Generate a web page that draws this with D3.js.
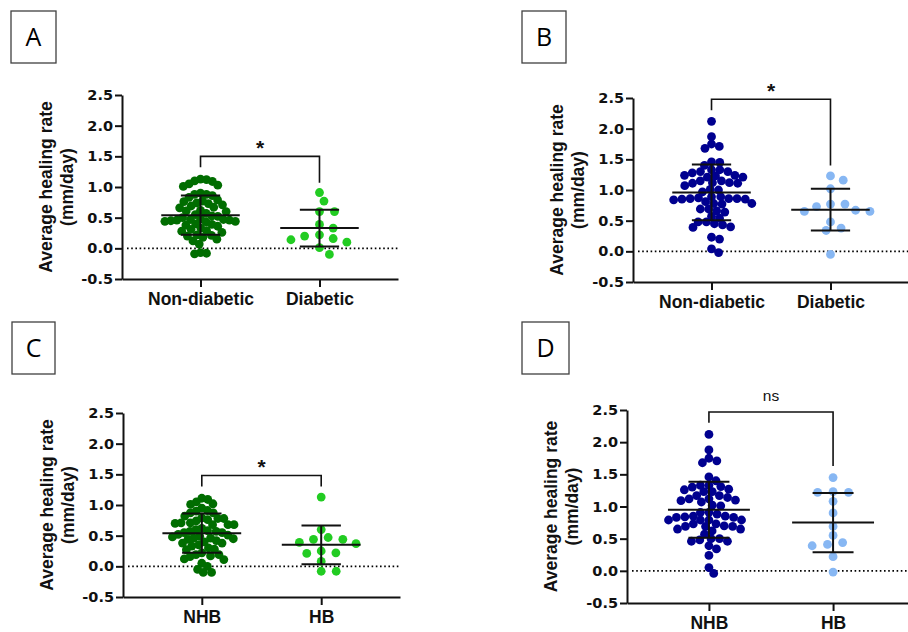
<!DOCTYPE html>
<html>
<head>
<meta charset="utf-8">
<script src="https://cdn.jsdelivr.net/npm/d3@7"></script>
<style>
  body { margin: 0; background: #fff; }
  svg { display: block; }
</style>
</head>
<body>
<div id="chart"></div>
<script>
// values (mm/day)
const yTickValues = [-0.5, 0, 0.5, 1.0, 1.5, 2.0, 2.5];
const diabetesGroups = ['Non-diabetic', 'Diabetic'];
const hbGroups = ['NHB', 'HB'];
const panelLetters = ['A', 'B', 'C', 'D'];

const aNonDiabetic = [1.13, 1.12, 1.10, 1.09, 1.05, 1.03, 1.01, 0.90, 0.88, 0.88, 0.86, 0.83, 0.79, 0.77, 0.76,
    0.74, 0.73, 0.71, 0.69, 0.67, 0.66, 0.62, 0.61, 0.60, 0.57, 0.55, 0.53, 0.52, 0.50, 0.48, 0.47, 0.47, 0.46,
    0.46, 0.45, 0.44, 0.44, 0.43, 0.40, 0.39, 0.38, 0.36, 0.33, 0.31, 0.29, 0.28, 0.26, 0.22, 0.21, 0.20, 0.18,
    0.15, 0.12, 0.07, -0.07, -0.09, -0.08];
const aDiabetic = [0.91, 0.77, 0.60, 0.60, 0.39, 0.33, 0.22, 0.20, 0.16, 0.14, 0.10, 0.01, -0.10];

const bNonDiabetic = [2.12, 1.87, 1.75, 1.71, 1.68, 1.46, 1.45, 1.40, 1.33, 1.33, 1.30, 1.30, 1.28, 1.24, 1.24,
    1.23, 1.21, 1.21, 1.15, 1.15, 1.12, 1.12, 1.11, 1.11, 1.07, 1.01, 1.00, 0.97, 0.89, 0.89, 0.87, 0.86, 0.86,
    0.86, 0.85, 0.85, 0.84, 0.81, 0.78, 0.78, 0.77, 0.69, 0.69, 0.66, 0.64, 0.57, 0.54, 0.48, 0.48, 0.45, 0.43,
    0.40, 0.39, 0.23, 0.20, 0.04, -0.02];
const bDiabetic = [1.23, 1.16, 1.02, 0.77, 0.77, 0.73, 0.67, 0.65, 0.65, 0.48, 0.38, 0.34, -0.05];

const cNHB = [1.11, 1.09, 1.05, 1.02, 1.01, 0.95, 0.91, 0.90, 0.87, 0.87, 0.82, 0.79, 0.78, 0.78, 0.76, 0.74,
    0.71, 0.71, 0.70, 0.68, 0.68, 0.68, 0.62, 0.60, 0.58, 0.57, 0.57, 0.55, 0.55, 0.52, 0.51, 0.49, 0.48, 0.46,
    0.46, 0.45, 0.44, 0.42, 0.40, 0.38, 0.38, 0.35, 0.33, 0.30, 0.28, 0.27, 0.22, 0.19, 0.19, 0.17, 0.16, 0.12,
    0.11, 0.05, 0.00, -0.05, -0.10, -0.10];
const cHB = [1.13, 0.60, 0.47, 0.44, 0.44, 0.39, 0.37, 0.25, 0.22, 0.21, 0.08, -0.08, -0.08];

const dNHB = [2.12, 1.88, 1.75, 1.71, 1.68, 1.46, 1.40, 1.33, 1.33, 1.31, 1.30, 1.27, 1.26, 1.23, 1.23, 1.17,
    1.17, 1.14, 1.12, 1.12, 1.10, 1.09, 1.07, 1.02, 1.01, 0.91, 0.91, 0.88, 0.85, 0.85, 0.84, 0.83, 0.83, 0.79,
    0.79, 0.79, 0.79, 0.73, 0.73, 0.70, 0.69, 0.69, 0.69, 0.65, 0.65, 0.62, 0.57, 0.50, 0.50, 0.48, 0.46, 0.46,
    0.39, 0.34, 0.24, 0.05, -0.04];
const dHB = [1.45, 1.23, 1.22, 1.22, 1.08, 0.90, 0.69, 0.55, 0.44, 0.41, 0.39, 0.22, -0.02];

// mean and SD per group, per panel
const groupMeans = [[0.54, 0.33], [0.96, 0.68], [0.54, 0.35], [0.95, 0.75]];
const groupSDs = [[0.32, 0.30], [0.455, 0.34], [0.32, 0.315], [0.435, 0.46]];

// significance bracket: [top, left leg end, right leg end] in data units, and its label
const bracketLevels = [[1.5, 1.32, 1.07], [2.48, 2.30, 1.40], [1.48, 1.30, 1.30], [2.47, 2.30, 1.63]];
const bracketLabels = ['*', '*', '*', 'ns'];

const darkGreen = '#006d00', lightGreen = '#22cc22', navy = '#00008f', lightBlue = '#87b7f3';
const arial = '"Liberation Sans", Arial, Helvetica, sans-serif';

// layout of the four panels; spread = [horizontal gap, vertical reach] of the swarm per group (px)
const panels = [
    { letter: panelLetters[0], cats: diabetesGroups, series: [aNonDiabetic, aDiabetic], colors: [darkGreen, lightGreen],
      x0: 122, x1: 398, yTop: 95, yBot: 279, box: [11, 11, 45, 52], spread: [[6, 8.5], [15, 9]] },
    { letter: panelLetters[1], cats: diabetesGroups, series: [bNonDiabetic, bDiabetic], colors: [navy, lightBlue],
      x0: 633, x1: 909, yTop: 98, yBot: 282, box: [522, 11, 44, 52], spread: [[8.3, 7], [14.5, 9]] },
    { letter: panelLetters[2], cats: hbGroups, series: [cNHB, cHB], colors: [darkGreen, lightGreen],
      x0: 123, x1: 400, yTop: 413, yBot: 597, box: [12, 322, 43, 52], spread: [[6, 8.5], [15, 9]] },
    { letter: panelLetters[3], cats: hbGroups, series: [dNHB, dHB], colors: [navy, lightBlue],
      x0: 627, x1: 915, yTop: 410, yBot: 603, box: [522, 322, 47, 52], spread: [[8.5, 7], [15.5, 9]] }
];

const svg = d3.select('#chart').append('svg')
    .attr('width', 908)
    .attr('height', 632);

svg.append('rect').attr('width', 908).attr('height', 632).attr('fill', '#fff');

// beeswarm with an elliptical keep-out zone: each point takes the free offset nearest the centre
function swarm(values, y, sx, sy) {
    const pts = values.map(v => ({ v: v, y: y(v), dx: 0 })).sort((a, b) => a.y - b.y);
    const placed = [];
    const hits = (c, p) => placed.some(q => ((q.dx - c) / sx) ** 2 + ((q.y - p.y) / sy) ** 2 < 0.999);
    pts.forEach(p => {
        let cands = [0];
        placed.forEach(q => {
            const dy = Math.abs(q.y - p.y);
            if (dy < sy) {
                const off = sx * Math.sqrt(1 - (dy / sy) ** 2);
                cands.push(q.dx + off, q.dx - off);
            }
        });
        cands.sort((a, b) => Math.abs(a) - Math.abs(b));
        p.dx = cands.find(c => !hits(c, p)) || 0;
        placed.push(p);
    });
    return pts;
}

panels.forEach((p, pi) => {
    const g = svg.append('g');

    // letter box
    g.append('rect')
        .attr('x', p.box[0]).attr('y', p.box[1])
        .attr('width', p.box[2]).attr('height', p.box[3])
        .attr('fill', 'none').attr('stroke', '#404040').attr('stroke-width', 1.3);
    g.append('text')
        .attr('x', p.box[0] + p.box[2] / 2).attr('y', p.box[1] + p.box[3] / 2 + 9)
        .attr('text-anchor', 'middle')
        .style('font-family', '"Open Sans", sans-serif')
        .style('font-size', '25px')
        .text(p.letter);

    const y = d3.scaleLinear().domain([-0.5, 2.5]).range([p.yBot, p.yTop]);
    const x = d3.scalePoint().domain(p.cats).range([p.x0, p.x1]).padding(0.66);
    const step = x.step();

    // dotted zero line
    g.append('line')
        .attr('x1', p.x0 + 5).attr('x2', p.x1)
        .attr('y1', y(0)).attr('y2', y(0))
        .attr('stroke', '#000').attr('stroke-width', 1.6)
        .attr('stroke-dasharray', '1.6 2.6');

    // points
    p.series.forEach((vals, si) => {
        const pts = swarm(vals, y, p.spread[si][0], p.spread[si][1]);
        g.append('g').selectAll('circle')
            .data(pts)
            .enter().append('circle')
            .attr('cx', d => x(p.cats[si]) + d.dx)
            .attr('cy', d => d.y)
            .attr('r', 4.4)
            .attr('fill', p.colors[si]);
    });

    // mean +/- SD
    p.cats.forEach((c, si) => {
        const m = groupMeans[pi][si], s = groupSDs[pi][si];
        const cx = x(c);
        const lines = [
            [cx - 0.33 * step, cx + 0.33 * step, y(m), y(m)],
            [cx - 0.165 * step, cx + 0.165 * step, y(m + s), y(m + s)],
            [cx - 0.165 * step, cx + 0.165 * step, y(m - s), y(m - s)],
            [cx, cx, y(m - s), y(m + s)]
        ];
        g.append('g').selectAll('line')
            .data(lines)
            .enter().append('line')
            .attr('x1', d => d[0]).attr('x2', d => d[1])
            .attr('y1', d => d[2]).attr('y2', d => d[3])
            .attr('stroke', '#111').attr('stroke-width', 2);
    });

    // axes
    const yAxis = g.append('g')
        .attr('transform', 'translate(' + p.x0 + ',0)')
        .call(d3.axisLeft(y).tickValues(yTickValues).tickSize(7).tickSizeOuter(0).tickPadding(2)
            .tickFormat(d => d.toFixed(1)));
    yAxis.attr('font-family', null).attr('font-size', null);
    yAxis.selectAll('text')
        .style('font-family', '"DejaVu Sans", sans-serif')
        .style('font-weight', 'bold')
        .style('font-size', '14.5px')
        .attr('fill', '#111');

    const xAxis = g.append('g')
        .attr('transform', 'translate(0,' + p.yBot + ')')
        .call(d3.axisBottom(x).tickSize(8).tickSizeOuter(0).tickPadding(6));
    xAxis.attr('font-family', null).attr('font-size', null);
    xAxis.selectAll('text')
        .style('font-family', arial)
        .style('font-weight', 'bold')
        .style('font-size', '17.5px')
        .attr('fill', '#111');

    [yAxis, xAxis].forEach(a => {
        a.selectAll('path, line').attr('stroke', '#111').attr('stroke-width', 2);
    });

    // y axis title
    const cy = (p.yTop + p.yBot) / 2;
    const title = g.append('text')
        .attr('transform', 'translate(' + (p.x0 - 70.5) + ',' + cy + ') rotate(-90)')
        .attr('text-anchor', 'middle')
        .style('font-family', arial)
        .style('font-weight', 'bold')
        .style('font-size', '17.5px')
        .attr('fill', '#111');
    title.append('tspan').attr('x', 0).attr('y', 0).text('Average healing rate');
    title.append('tspan').attr('x', 0).attr('y', 21.5).text('(mm/day)');

    // significance bracket
    const [top, leftEnd, rightEnd] = bracketLevels[pi];
    const xa = x(p.cats[0]), xb = x(p.cats[1]);
    g.append('path')
        .attr('d', 'M' + xa + ',' + y(leftEnd) + 'V' + y(top) + 'H' + xb + 'V' + y(rightEnd))
        .attr('fill', 'none').attr('stroke', '#111').attr('stroke-width', 1.6);

    const isNs = bracketLabels[pi] === 'ns';
    g.append('text')
        .attr('x', (xa + xb) / 2)
        .attr('y', y(top) - (isNs ? 10.5 : 1.5))
        .attr('text-anchor', 'middle')
        .style('font-family', arial)
        .style('font-weight', isNs ? 'normal' : 'bold')
        .style('font-size', isNs ? '15.5px' : '21px')
        .attr('fill', '#111')
        .text(bracketLabels[pi]);
});
</script>
</body>
</html>
